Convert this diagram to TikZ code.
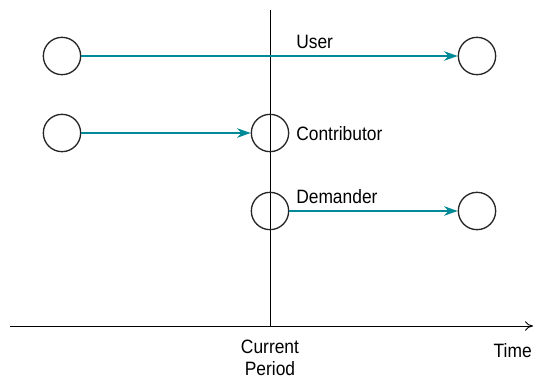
\documentclass[tikz,border=0pt]{standalone}
\usepackage{fontspec}
\setmainfont[FakeStretch=0.9]{Liberation Sans}
\usetikzlibrary{arrows.meta}
\definecolor{flowteal}{RGB}{0,137,150}
\tikzset{
  agent/.style={draw=black!85, line width=1pt, circle, minimum size=28pt, inner sep=0pt},
  flow/.style={flowteal, line width=1.7pt, -{Stealth[length=10pt, width=7pt, inset=3pt]}},
  axisline/.style={line width=0.7pt, -{To[length=6pt, width=7pt]}},
  nowline/.style={line width=0.7pt},
  rolelabel/.style={font=\fontsize{14.5}{16}\selectfont, anchor=west, inner sep=0pt},
  ticklabel/.style={font=\fontsize{14.5}{16}\selectfont, align=center, inner sep=0pt}
}
\def\xnow{270}
\def\xpast{62}
\def\xfut{477}
\begin{document}
\begin{tikzpicture}[x=0.75pt, y=-0.75pt]
  \useasboundingbox (0,0) rectangle (533,378);

  % time axis and current period
  \coordinate (origin) at (10,326);
  \coordinate (tend) at (533,326);
  \coordinate (nowtop) at (\xnow,10);
  \coordinate (nowbot) at (\xnow,326);
  \draw[nowline] (nowtop) -- (nowbot);
  \draw[axisline] (origin) -- (tend);
  \node[ticklabel] (current) at (\xnow,358) {Current\\Period};
  \node[ticklabel, anchor=east] (time) at (532,351) {Time};

  % a) user
  \node[agent] (userpast) at (\xpast,56) {};
  \node[agent] (userfut) at (\xfut,56) {};
  \draw[flow] (userpast) -- (userfut);
  \node[rolelabel] (userlbl) at (296,42) {User};

  % b) contributor
  \node[agent] (contribpast) at (\xpast,133) {};
  \node[agent] (contribnow) at (\xnow,133) {};
  \draw[flow] (contribpast) -- (contribnow);
  \node[rolelabel] (contriblbl) at (296,134) {Contributor};

  % c) demander
  \node[agent] (demandnow) at (\xnow,211) {};
  \node[agent] (demandfut) at (\xfut,211) {};
  \draw[flow] (demandnow) -- (demandfut);
  \node[rolelabel] (demandlbl) at (296,197) {Demander};
\end{tikzpicture}
\end{document}
